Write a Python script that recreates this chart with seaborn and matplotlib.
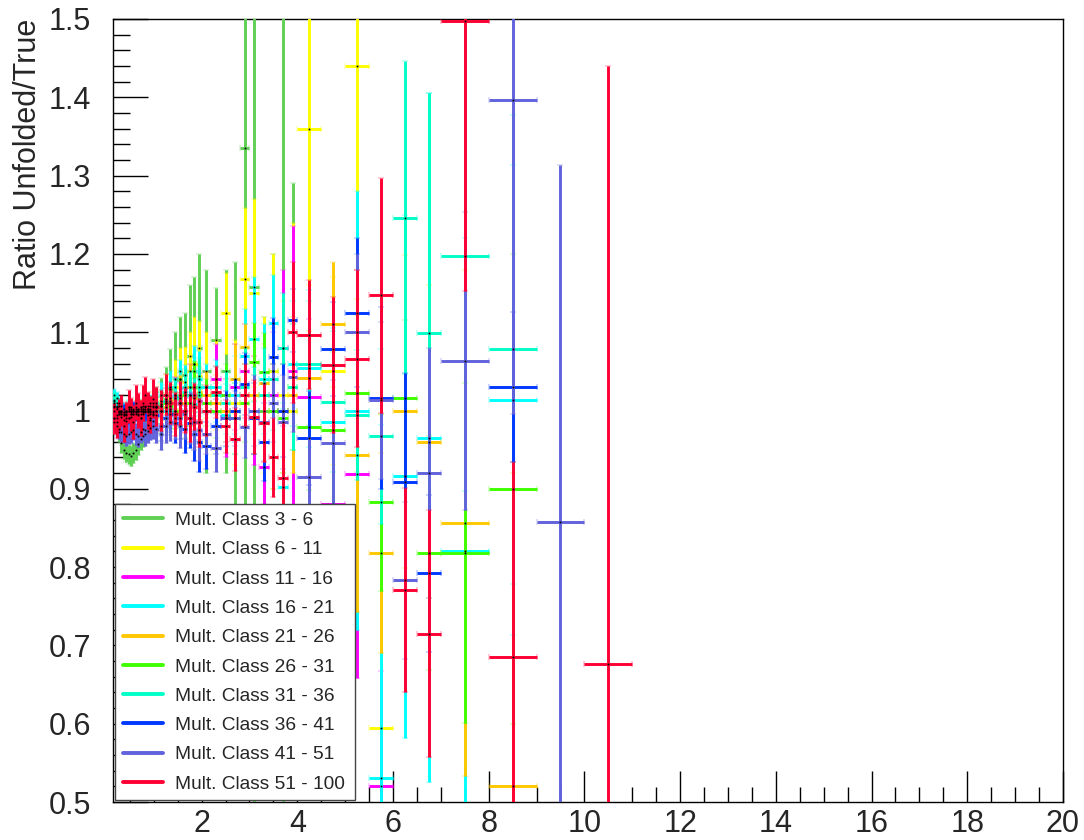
import numpy as np
import matplotlib
matplotlib.use("Agg")
import matplotlib.pyplot as plt
import seaborn as sns
from matplotlib.ticker import MultipleLocator, FuncFormatter
from matplotlib.lines import Line2D

# ---------------- data ----------------
bin_edges = [0.15, 0.2, 0.25, 0.3, 0.35, 0.4, 0.45, 0.5, 0.55, 0.6, 0.65, 0.7, 0.75, 0.8, 0.85, 0.9, 0.95, 1.0,
             1.1, 1.2, 1.3, 1.4, 1.5, 1.6, 1.7, 1.8, 1.9, 2.0,
             2.2, 2.4, 2.6, 2.8, 3.0, 3.2, 3.4, 3.6, 3.8, 4.0,
             4.5, 5.0, 5.5, 6.0, 6.5, 7.0,
             8.0, 9.0, 10.0, 11.0]

labels = ["Mult. Class 3 - 6", "Mult. Class 6 - 11", "Mult. Class 11 - 16", "Mult. Class 16 - 21",
          "Mult. Class 21 - 26", "Mult. Class 26 - 31", "Mult. Class 31 - 36", "Mult. Class 36 - 41",
          "Mult. Class 41 - 51", "Mult. Class 51 - 100"]
colors = ["#60D055", "#FFFF00", "#FF00FF", "#00FFFF", "#FFC800",
          "#40FF00", "#00FFC8", "#0038FF", "#6262DC", "#FF0033"]

nan = float("nan")

ratio_3_6 = [1.005, 0.99, 0.972, 0.958, 0.95, 0.946, 0.944, 0.942, 0.946, 0.95, 0.957, 0.963, 0.968, 0.975, 0.982, 0.988, 0.994,
             1.0, 1.006, 1.015, 1.028, 1.04, 1.05, 1.045, 1.07, 1.06, 1.08,
             1.05, 1.09, 1.05, 1.0, 1.335, 1.158, 1.0, 1.05, 1.0, 1.0]
err_3_6 = [0.012, 0.012, 0.012, 0.012, 0.012, 0.012, 0.012, 0.013, 0.013, 0.013, 0.014, 0.014, 0.015, 0.016, 0.017, 0.018, 0.019,
           0.03, 0.035, 0.04, 0.05, 0.06, 0.07, 0.08, 0.09, 0.11, 0.12,
           0.13, 0.066, 0.13, 0.19, 0.5, 0.7, 0.12, 0.15, 0.6, 0.29]

ratio_6_11 = [1.012, 1.004, 0.998, 0.992, 0.988, 0.986, 0.99, 0.992, 0.996, 1.0, 1.002, 1.004, 1.0, 0.998, 1.002, 1.006, 1.01,
              1.004, 1.012, 1.02, 1.016, 1.03, 1.04, 1.036, 1.05, 1.06, 1.044,
              1.03, 1.02, 1.124, 1.01, 1.168, 1.15, 1.02, 1.05, 1.02, 1.0,
              1.36, 1.05, 1.44, 0.594]
err_6_11 = [0.008, 0.008, 0.008, 0.008, 0.008, 0.008, 0.009, 0.009, 0.009, 0.01, 0.01, 0.01, 0.011, 0.011, 0.012, 0.012, 0.013,
            0.02, 0.022, 0.025, 0.03, 0.035, 0.04, 0.045, 0.05, 0.06, 0.07,
            0.07, 0.07, 0.052, 0.08, 0.09, 0.12, 0.1, 0.15, 0.12, 0.24,
            0.2, 0.12, 0.26, 0.4]

ratio_11_16 = [1.0, 1.004, 1.0, 0.996, 0.994, 0.998, 1.0, 1.004, 1.0, 1.002, 0.996, 1.0, 1.002, 1.006, 1.0, 0.998, 0.996,
               1.006, 1.0, 1.01, 1.002, 1.02, 1.01, 1.0, 1.03, 1.02, 1.012,
               1.01, 1.04, 0.99, 1.03, 1.05, 1.0, 0.928, 1.02, 1.08, 1.05,
               1.017, 0.88, 0.919, 0.52]
err_11_16 = [0.007, 0.007, 0.007, 0.007, 0.007, 0.008, 0.008, 0.008, 0.008, 0.009, 0.009, 0.009, 0.01, 0.01, 0.01, 0.011, 0.011,
             0.015, 0.017, 0.019, 0.021, 0.023, 0.025, 0.028, 0.03, 0.033, 0.036,
             0.04, 0.045, 0.05, 0.055, 0.06, 0.07, 0.12, 0.08, 0.1, 0.185,
             0.1, 0.1, 0.26, 0.147]

ratio_16_21 = [1.02, 1.016, 1.01, 1.006, 1.002, 1.0, 1.004, 1.0, 1.002, 0.996, 1.0, 1.002, 1.006, 1.0, 1.002, 1.01, 1.0,
               1.01, 1.02, 1.0, 1.03, 1.02, 1.04, 1.03, 1.02, 1.05, 1.04,
               1.03, 1.03, 0.994, 1.02, 1.07, 1.091, 1.04, 1.112, 0.902, 1.06,
               1.054, 0.985, 1.0, 0.531, 0.916, 0.965, 0.82, 1.013]
err_16_21 = [0.007, 0.007, 0.007, 0.007, 0.007, 0.007, 0.008, 0.008, 0.008, 0.008, 0.009, 0.009, 0.009, 0.01, 0.01, 0.01, 0.011,
             0.014, 0.016, 0.018, 0.02, 0.022, 0.025, 0.028, 0.03, 0.033, 0.036,
             0.03, 0.035, 0.04, 0.05, 0.06, 0.08, 0.07, 0.061, 0.1, 0.08,
             0.1, 0.12, 0.28, 0.45, 0.334, 0.44, 0.4, 0.3]

ratio_21_26 = [1.006, 1.002, 0.998, 0.996, 0.994, 0.996, 1.0, 1.002, 1.0, 0.998, 1.0, 1.004, 1.002, 1.0, 0.998, 1.002, 1.006,
               1.0, 1.008, 1.004, 1.012, 1.0, 1.02, 1.01, 1.03, 1.016, 1.024,
               1.02, 1.01, 1.0, 1.04, 1.081, 1.02, 1.035, 1.0, 1.0, 1.02,
               1.041, 1.11, 0.943, 0.818, 0.999, 0.96, 0.856, 0.52]
err_21_26 = [0.007, 0.007, 0.007, 0.007, 0.007, 0.007, 0.008, 0.008, 0.008, 0.008, 0.009, 0.009, 0.009, 0.01, 0.01, 0.01, 0.011,
             0.014, 0.016, 0.018, 0.02, 0.022, 0.025, 0.028, 0.03, 0.033, 0.036,
             0.03, 0.035, 0.04, 0.045, 0.03, 0.05, 0.05, 0.06, 0.08, 0.1,
             0.06, 0.08, 0.2, 0.128, 0.2, 0.2, 0.323, 0.4]

ratio_26_31 = [1.01, 1.006, 1.0, 0.998, 0.996, 1.0, 1.002, 0.998, 1.0, 1.004, 1.0, 0.996, 1.0, 1.004, 1.002, 1.0, 0.998,
               1.004, 1.0, 1.01, 1.006, 1.0, 1.016, 1.02, 1.01, 1.03, 1.02,
               1.01, 1.0, 1.02, 0.99, 1.01, 1.062, 1.049, 1.0, 0.99, 1.03,
               0.979, 0.975, 1.022, 0.883, 1.016, 0.818, 0.818, 0.9]
err_26_31 = [0.008, 0.008, 0.008, 0.008, 0.008, 0.008, 0.009, 0.009, 0.009, 0.009, 0.01, 0.01, 0.01, 0.011, 0.011, 0.011, 0.012,
             0.015, 0.017, 0.019, 0.021, 0.023, 0.025, 0.028, 0.03, 0.033, 0.036,
             0.03, 0.035, 0.04, 0.045, 0.05, 0.05, 0.05, 0.06, 0.07, 0.08,
             0.08, 0.1, 0.1, 0.113, 0.1, 0.15, 0.217, 0.3]

ratio_31_36 = [1.014, 1.01, 1.006, 1.0, 0.998, 1.0, 1.004, 1.0, 0.996, 1.0, 1.002, 1.0, 0.998, 1.002, 1.006, 1.0, 1.004,
               1.0, 1.006, 1.012, 1.0, 1.016, 1.01, 1.024, 1.02, 1.008, 1.03,
               1.0, 1.02, 1.01, 0.99, 1.03, 1.0, 1.02, 1.04, 1.08, 1.03,
               1.06, 1.011, 0.994, 0.967, 1.246, 1.099, 1.197, 1.078]
err_31_36 = [0.009, 0.009, 0.009, 0.009, 0.009, 0.009, 0.01, 0.01, 0.01, 0.01, 0.011, 0.011, 0.011, 0.012, 0.012, 0.012, 0.013,
             0.016, 0.018, 0.02, 0.022, 0.024, 0.026, 0.029, 0.031, 0.034, 0.037,
             0.03, 0.035, 0.04, 0.045, 0.05, 0.055, 0.06, 0.065, 0.07, 0.08,
             0.08, 0.09, 0.083, 0.112, 0.2, 0.306, 0.3, 0.3]

ratio_36_41 = [0.99, 0.994, 0.996, 1.0, 0.998, 0.994, 0.99, 0.996, 1.0, 0.998, 0.994, 0.99, 0.996, 1.0, 0.994, 0.99, 0.986,
               0.994, 0.98, 0.99, 0.996, 0.984, 0.99, 0.976, 0.984, 0.97, 0.96,
               0.955, 0.98, 0.99, 1.0, 1.034, 0.99, 0.96, 1.068, 1.0, 1.115,
               0.965, 1.079, 1.125, 1.016, 0.909, 0.792, nan, 1.03]
err_36_41 = [0.01, 0.01, 0.01, 0.01, 0.01, 0.01, 0.011, 0.011, 0.011, 0.011, 0.012, 0.012, 0.012, 0.013, 0.013, 0.013, 0.014,
             0.017, 0.019, 0.021, 0.023, 0.025, 0.027, 0.03, 0.032, 0.035, 0.038,
             0.03, 0.035, 0.035, 0.04, 0.04, 0.045, 0.05, 0.05, 0.06, 0.04,
             0.06, 0.06, 0.095, 0.116, 0.139, 0.1, nan, 0.096]

ratio_41_51 = [0.985, 0.98, 0.976, 0.972, 0.97, 0.968, 0.97, 0.972, 0.975, 0.97, 0.968, 0.972, 0.976, 0.97, 0.974, 0.978, 0.98,
               0.976, 0.97, 0.98, 0.985, 0.99, 0.98, 0.995, 0.99, 0.985, 0.975,
               0.97, 0.952, 0.99, 0.99, 0.979, 1.0, 0.985, 1.01, 0.985, 1.043,
               0.915, 0.959, 1.1, 1.013, 0.783, 0.92, 1.063, 1.396, 0.858]
err_41_51 = [0.012, 0.012, 0.012, 0.012, 0.012, 0.013, 0.013, 0.013, 0.013, 0.014, 0.014, 0.014, 0.015, 0.015, 0.015, 0.016, 0.016,
             0.018, 0.02, 0.022, 0.024, 0.026, 0.028, 0.031, 0.033, 0.036, 0.039,
             0.025, 0.03, 0.03, 0.035, 0.04, 0.045, 0.05, 0.05, 0.06, 0.07,
             0.05, 0.08, 0.1, 0.1, 0.1, 0.16, 0.19, 0.4, 0.455]

ratio_51_100 = [0.99, 0.985, 0.995, 1.0, 0.98, 0.99, 1.005, 0.995, 0.985, 1.01, 1.0, 0.99, 1.01, 1.02, 1.0, 0.995, 1.015,
                1.005, 1.0, 1.02, 1.01, 0.995, 1.01, 1.0, 0.99, 1.005, 0.985,
                1.0, 1.024, 0.98, 0.963, 1.02, 0.992, 0.984, 0.94, 0.914, 1.10,
                1.097, 1.058, 1.066, 1.147, 0.771, 0.715, 1.498, 0.685, nan, 0.676]
err_51_100 = [0.02, 0.02, 0.02, 0.02, 0.02, 0.021, 0.021, 0.021, 0.022, 0.022, 0.022, 0.023, 0.023, 0.023, 0.024, 0.024, 0.025,
              0.025, 0.026, 0.026, 0.027, 0.028, 0.028, 0.029, 0.03, 0.03, 0.031,
              0.032, 0.033, 0.034, 0.04, 0.04, 0.047, 0.05, 0.05, 0.07, 0.09,
              0.07, 0.087, 0.113, 0.15, 0.13, 0.158, 0.345, 0.249, nan, 0.764]

ratios = [ratio_3_6, ratio_6_11, ratio_11_16, ratio_16_21, ratio_21_26,
          ratio_26_31, ratio_31_36, ratio_36_41, ratio_41_51, ratio_51_100]
errors = [err_3_6, err_6_11, err_11_16, err_16_21, err_21_26,
          err_26_31, err_31_36, err_36_41, err_41_51, err_51_100]

y_ticks = [0.5, 0.6, 0.7, 0.8, 0.9, 1.0, 1.1, 1.2, 1.3, 1.4, 1.5]
x_ticks = [2, 4, 6, 8, 10, 12, 14, 16, 18, 20]

# ---------------- style ----------------
sns.set_theme(style="white")
plt.rcParams["font.family"] = ["Liberation Sans", "DejaVu Sans"]
plt.rcParams["axes.linewidth"] = 1.0
plt.rcParams["axes.edgecolor"] = "black"

fig = plt.figure(figsize=(10.84, 8.40), dpi=100)
ax = fig.add_axes([0.1043, 0.0452, 0.8763, 0.9322])

edges = np.array(bin_edges)
centers = 0.5 * (edges[:-1] + edges[1:])
halfw = 0.5 * (edges[1:] - edges[:-1])

for vals, errs, col, lab in zip(ratios, errors, colors, labels):
    v = np.array(vals, dtype=float)
    e = np.array(errs, dtype=float)
    n = len(v)
    ok = ~np.isnan(v)
    ax.errorbar(centers[:n][ok], v[ok], yerr=e[ok], xerr=halfw[:n][ok],
                fmt="s", ms=0.9, mfc="black", mec="black", mew=0.3, ecolor=col,
                elinewidth=2.1, capsize=2.0, capthick=2.1, label=lab, zorder=3)

ax.set_xlim(0.15, 20)
ax.set_ylim(0.5, 1.5)

ax.xaxis.set_minor_locator(MultipleLocator(0.5))
ax.yaxis.set_minor_locator(MultipleLocator(0.02))
ax.set_xticks(x_ticks)
ax.set_yticks(y_ticks)
ax.yaxis.set_major_formatter(FuncFormatter(lambda v, p: "%g" % round(v, 2)))
ax.xaxis.set_major_formatter(FuncFormatter(lambda v, p: "%g" % v))

ax.tick_params(axis="both", which="both", direction="in", top=False, right=False,
               bottom=True, left=True, color="black", width=1.0)
ax.tick_params(axis="x", which="major", length=22, pad=5, labelsize=22)
ax.tick_params(axis="x", which="minor", length=11)
ax.tick_params(axis="y", which="major", length=25, pad=16, labelsize=22)
ax.tick_params(axis="y", which="minor", length=12)

for s in ax.spines.values():
    s.set_visible(True)
    s.set_color("black")
    s.set_linewidth(1.0)

ax.set_ylabel("Ratio Unfolded/True", fontsize=22, loc="top")
ax.yaxis.set_label_coords(-0.074, 1.0)

handles = [Line2D([], [], color=c, lw=2.8) for c in colors]
leg = ax.legend(handles, labels, loc="lower left", bbox_to_anchor=(0.002, 0.002, 0.253, 0.375),
                mode="expand", borderaxespad=0, fontsize=13.8, frameon=True, fancybox=False,
                framealpha=1.0, edgecolor="#444444", labelspacing=0.62, handlelength=2.1,
                handletextpad=0.65, borderpad=0.4)
leg.get_frame().set_linewidth(1.0)
leg.set_zorder(10)

fig.savefig("out.png", dpi=100)
